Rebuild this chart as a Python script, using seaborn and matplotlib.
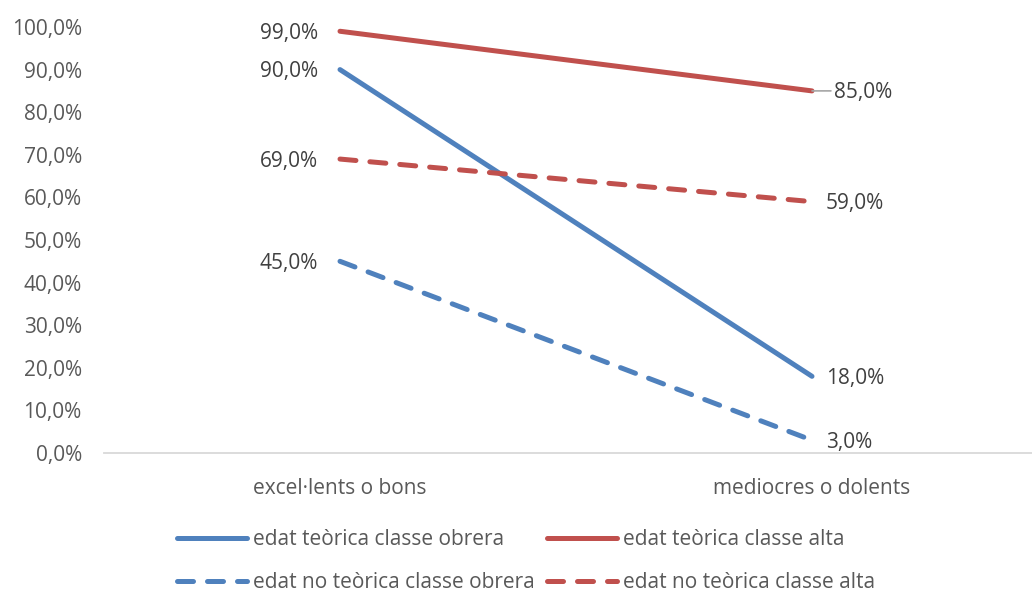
import matplotlib
matplotlib.use("Agg")
import matplotlib.pyplot as plt
import seaborn as sns
import pandas as pd
from matplotlib.ticker import FuncFormatter

categories = ["excel·lents o bons", "mediocres o dolents"]
series_names = [
    "edat teòrica classe obrera",
    "edat no teòrica classe obrera",
    "edat teòrica classe alta",
    "edat no teòrica classe alta",
]
teorica_obrera = [90.0, 18.0]
no_teorica_obrera = [45.0, 3.0]
teorica_alta = [99.0, 85.0]
no_teorica_alta = [69.0, 59.0]
y_ticks = [0, 10, 20, 30, 40, 50, 60, 70, 80, 90, 100]

values = [teorica_obrera, no_teorica_obrera, teorica_alta, no_teorica_alta]
blue = "#4F81BD"
red = "#C0504D"
colors = [blue, blue, red, red]
dashed = [False, True, False, True]

rows = []
for name, vals in zip(series_names, values):
    for i, (cat, v) in enumerate(zip(categories, vals)):
        rows.append({"serie": name, "pos": i, "categoria": cat, "valor": v})
df = pd.DataFrame(rows)

sns.set_theme(style="white")
plt.rcParams["font.family"] = ["Open Sans", "DejaVu Sans"]

FS = 15

fig = plt.figure(figsize=(10.32, 5.92), dpi=100)
ax = fig.add_axes([104 / 1032, 1 - 453 / 592, 944 / 1032, 426 / 592])

lw = 3.6
for name, col, dsh in zip(series_names, colors, dashed):
    sub = df[df["serie"] == name]
    sns.lineplot(data=sub, x="pos", y="valor", ax=ax, color=col, linewidth=lw,
                 label=name, legend=False)
    line = ax.lines[-1]
    line.set_solid_capstyle("round")
    line.set_dash_capstyle("round")
    if dsh:
        line.set_linestyle((0, (3.2, 2.8)))

ax.set_xlim(-0.5, 1.5)
ax.set_ylim(0, 100)
ax.set_yticks(y_ticks)
ax.yaxis.set_major_formatter(FuncFormatter(lambda v, p: f"{v:.1f}%".replace(".", ",")))
ax.set_xticks([0, 1])
ax.set_xticklabels(categories)
ax.set_xlabel("")
ax.set_ylabel("")
for s in ["top", "right", "left"]:
    ax.spines[s].set_visible(False)
ax.spines["bottom"].set_color("#D9D9D9")
ax.spines["bottom"].set_linewidth(1.3)
ax.tick_params(axis="y", length=0, pad=16, labelsize=FS, labelcolor="#595959")
ax.tick_params(axis="x", length=0, pad=18, labelsize=FS, labelcolor="#595959")
ax.grid(False)

label_color = "#404040"
for name, vals in zip(series_names, values):
    ax.annotate(f"{vals[0]:.1f}%".replace(".", ","), (0, vals[0]),
                xytext=(-16, -1.5), textcoords="offset points",
                ha="right", va="center", fontsize=FS, color=label_color)
    if name == "edat teòrica classe alta":
        ax.annotate(f"{vals[1]:.1f}%".replace(".", ","), (1, vals[1]),
                    xytext=(16, -1.5), textcoords="offset points",
                    ha="left", va="center", fontsize=FS, color=label_color,
                    arrowprops=dict(arrowstyle="-", color="#A6A6A6", lw=1.2,
                                    shrinkA=0, shrinkB=0, relpos=(0, 0.6)))
    else:
        ax.annotate(f"{vals[1]:.1f}%".replace(".", ","), (1, vals[1]),
                    xytext=(10, -1.5), textcoords="offset points",
                    ha="left", va="center", fontsize=FS, color=label_color)

handles = ax.lines[:4]
leg = fig.legend(handles, series_names, ncol=2, loc="center",
                 bbox_to_anchor=(526 / 1032, 1 - 561 / 592),
                 frameon=False, fontsize=FS, handlelength=3.35,
                 handletextpad=0.3, columnspacing=0.6, labelspacing=1.05,
                 labelcolor="#595959")

fig.savefig("out.png", dpi=100)
